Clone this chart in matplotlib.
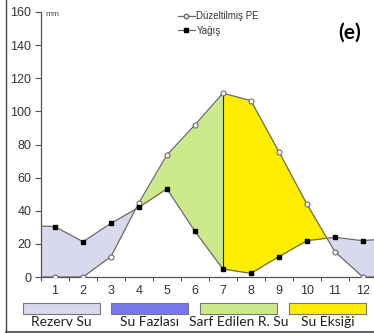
import numpy as np
import matplotlib
matplotlib.use("Agg")
import matplotlib.pyplot as plt
from matplotlib.lines import Line2D
from matplotlib.patches import Rectangle

# ---- data ----
months = [1, 2, 3, 4, 5, 6, 7, 8, 9, 10, 11, 12]
pe = [0, 0, 12.3, 44.9, 73.7, 91.8, 111.0, 106.5, 75.7, 44.1, 15.3, 0]
precip = [30.4, 21.3, 32.4, 42.1, 53.2, 27.6, 4.8, 2.2, 12.3, 21.9, 24.0, 21.9]
# values where the lines meet the left / right edges of the plot
edge_x = [0.5, 12.4]
edge_pe = [0, 0]
edge_precip = [30.8, 22.5]
yticks = [0, 20, 40, 60, 80, 100, 120, 140, 160]
legend_labels = ["Rezerv Su", "Su Fazlası", "Sarf Edilen R. Su", "Su Eksiği"]
legend_colors = ["#d9d9ee", "#7777ee", "#cdea8a", "#ffee00"]
split_month = 7

W, H = 374, 333
fig = plt.figure(figsize=(W / 100, H / 100), dpi=100)
ax = fig.add_axes([41 / W, (H - 277) / H, 333 / W, 265 / H])

x = np.array([edge_x[0]] + months + [edge_x[1]], dtype=float)
p = np.array([edge_precip[0]] + precip + [edge_precip[1]])
e = np.array([edge_pe[0]] + pe + [edge_pe[1]])

xd = np.linspace(edge_x[0], edge_x[1], 4000)
xd = np.unique(np.concatenate([xd, x]))
pd_ = np.interp(xd, x, p)
ed = np.interp(xd, x, e)

ax.fill_between(xd, ed, pd_, where=pd_ >= ed, interpolate=True, color=legend_colors[0], lw=0)
ax.fill_between(xd, ed, pd_, where=(ed >= pd_) & (xd <= split_month), interpolate=True,
                color=legend_colors[2], lw=0)
ax.fill_between(xd, ed, pd_, where=(ed >= pd_) & (xd >= split_month), interpolate=True,
                color=legend_colors[3], lw=0)
i7 = months.index(split_month)
ax.plot([split_month, split_month], [precip[i7], pe[i7]], color="#222222", lw=0.8)

lc = "#6a6a6a"
ax.plot(x, e, color=lc, lw=0.9, zorder=3)
ax.plot(x, p, color=lc, lw=0.9, zorder=3)
ax.plot(months, pe, ls="none", marker="o", ms=3.6, mfc="white", mec=lc, mew=0.8, zorder=4)
ax.plot(months, precip, ls="none", marker="s", ms=3.2, mfc="black", mec="black", zorder=4)

ax.set_xlim(edge_x[0], edge_x[1])
ax.set_ylim(0, 160)
ax.set_yticks(yticks)
ax.set_xticks(months)
ax.set_xticks(np.arange(0.5, 12.5, 1), minor=True)
ax.tick_params(axis="x", which="major", length=0, pad=6, labelsize=9, labelcolor="#333333")
ax.tick_params(axis="x", which="minor", length=3, color="#555555", width=0.8)
ax.tick_params(axis="y", length=4, color="#555555", width=0.8, labelsize=9,
               labelcolor="#333333", pad=3)
for s in ["top", "right"]:
    ax.spines[s].set_visible(False)
for s in ["left", "bottom"]:
    ax.spines[s].set_color("#555555")
    ax.spines[s].set_linewidth(0.9)
for lab in ax.get_xticklabels() + ax.get_yticklabels():
    lab.set_fontfamily("Liberation Sans")

ax.text(45 / W, (H - 14) / H, "mm", transform=fig.transFigure, fontsize=6,
        family="Liberation Sans", color="#444444", va="center", ha="left")

h1 = Line2D([], [], color=lc, lw=0.9, marker="o", ms=3.2, mfc="white", mec=lc)
h2 = Line2D([], [], color=lc, lw=0.9, marker="s", ms=3, mfc="black", mec="black")
leg = fig.legend([h1, h2], ["Düzeltilmiş PE", "Yağış"], loc="upper left",
                 bbox_to_anchor=(178 / W, (H - 11) / H), frameon=False,
                 prop={"family": "Liberation Sans", "size": 7}, handlelength=1.7,
                 handletextpad=0.2, labelspacing=0.5, borderpad=0, borderaxespad=0)
for t in leg.get_texts():
    t.set_color("#333333")

fig.text(350 / W, (H - 33) / H, "(e)", fontsize=15, fontweight="bold", family="Lato",
         ha="center", va="center", color="black")

# bottom legend boxes
box_x = [23, 111, 200, 289]
box_w = 77
for bx, lab, col in zip(box_x, legend_labels, legend_colors):
    fig.patches.append(Rectangle((bx / W, (H - 314) / H), box_w / W, 11.5 / H,
                                 transform=fig.transFigure, facecolor=col,
                                 edgecolor="#777777", lw=0.8))
    fig.text((bx + box_w / 2) / W, (H - 322.5) / H, lab, fontsize=10, family="Lato",
             ha="center", va="center", color="#222222")

# outer frame lines
fig.add_artist(Line2D([6 / W, 6 / W], [1 / H, 1], transform=fig.transFigure,
                      color="#444444", lw=1))
fig.add_artist(Line2D([6 / W, 1], [1 / H, 1 / H], transform=fig.transFigure,
                      color="#444444", lw=1.2))

fig.savefig("out.png", dpi=100)
